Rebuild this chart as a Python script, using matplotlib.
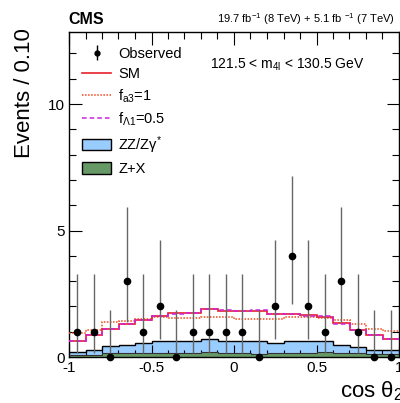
import numpy as np
import matplotlib
matplotlib.use("Agg")
import matplotlib.pyplot as plt
from matplotlib.patches import Patch
from matplotlib.lines import Line2D

plt.rcParams['font.family'] = ['Liberation Sans', 'DejaVu Sans']
plt.rcParams['mathtext.fontset'] = 'custom'
plt.rcParams['mathtext.rm'] = 'Liberation Sans'
plt.rcParams['mathtext.it'] = 'Liberation Sans:italic'
plt.rcParams['mathtext.default'] = 'regular'

# cos theta2 bins, width 0.1
edges = np.round(np.arange(-1.0, 1.0001, 0.1), 2)
centers = edges[:-1] + 0.05

observed = [1, 1, 0, 3, 1, 2, 0, 1, 1, 1, 1, 0, 2, 4, 2, 1, 3, 1, 0, 0]

# Garwood 68% intervals for small counts
poisson_lo = {0: 0.0, 1: 0.17, 2: 0.71, 3: 1.37, 4: 2.09}
poisson_hi = {0: 1.84, 1: 3.30, 2: 4.64, 3: 5.92, 4: 7.16}

sm = [0.63, 0.87, 1.11, 1.30, 1.46, 1.63, 1.73, 1.73, 1.90, 1.83,
      1.83, 1.83, 1.72, 1.70, 1.65, 1.60, 1.33, 1.05, 0.88, 0.70]
fa3 = [0.96, 1.07, 1.40, 1.42, 1.49, 1.60, 1.56, 1.53, 1.58, 1.58,
       1.50, 1.50, 1.49, 1.60, 1.58, 1.56, 1.45, 1.32, 1.10, 1.04]
flambda1 = [0.64, 0.86, 1.12, 1.31, 1.45, 1.64, 1.72, 1.74, 1.89, 1.84,
            1.82, 1.84, 1.71, 1.71, 1.64, 1.61, 1.32, 1.06, 0.87, 0.71]
zz = [0.13, 0.20, 0.29, 0.33, 0.43, 0.45, 0.45, 0.48, 0.50, 0.51,
      0.51, 0.53, 0.43, 0.45, 0.45, 0.42, 0.30, 0.26, 0.18, 0.14]
zx = [0.08, 0.08, 0.14, 0.14, 0.14, 0.17, 0.17, 0.14, 0.21, 0.14,
      0.14, 0.12, 0.14, 0.17, 0.17, 0.20, 0.17, 0.14, 0.10, 0.12]

fig = plt.figure(figsize=(4.0, 4.03), dpi=100)
ax = fig.add_axes([0.1725, 0.1141, 0.825, 0.8065])

bkg_total = np.array(zz) + np.array(zx)

# stacked backgrounds
ax.stairs(bkg_total, edges, fill=True, color='#99ccff', zorder=1)
ax.stairs(zx, edges, fill=True, color='#669966', zorder=2)
ax.stairs(bkg_total, edges, baseline=None, color='black', lw=1.0, zorder=3)
ax.stairs(zx, edges, baseline=None, color='#333333', lw=0.8, zorder=3)

# signal hypotheses
ax.stairs(fa3, edges, baseline=None, color='#f04a1a', lw=1.1, ls=(0, (1, 1)), zorder=4)
ax.stairs(sm, edges, baseline=None, color='#e8202a', lw=1.2, zorder=4)
ax.stairs(flambda1, edges, baseline=None, color='#cc22dd', lw=1.1, ls=(0, (3, 2)), zorder=5)

# data
obs = np.array(observed)
yerr = [[n - poisson_lo[n] for n in observed], [poisson_hi[n] - n for n in observed]]
ax.errorbar(centers, obs, yerr=yerr, fmt='o', color='black', ms=4.5,
            ecolor='#666666', elinewidth=1.0, capsize=0, zorder=6, clip_on=False)

ax.set_xlim(-1, 1)
ax.set_ylim(0, 12.85)
ax.set_xticks([-1, -0.5, 0, 0.5, 1])
ax.set_xticklabels(['-1', '-0.5', '0', '0.5', '1'])
ax.set_xticks(np.arange(-1, 1.001, 0.1), minor=True)
ax.set_yticks([0, 5, 10])
ax.set_yticks(np.arange(0, 13, 1), minor=True)
ax.tick_params(which='both', direction='in', top=True, right=True, labelsize=11, pad=3)
ax.tick_params(which='major', length=9, width=0.8)
ax.tick_params(which='minor', length=5, width=0.8)
for s in ax.spines.values():
    s.set_linewidth(1.0)

fig.text(25 / 400, 1 - 28 / 403, 'Events / 0.10', rotation=90, ha='center', va='top', fontsize=16)
fig.text(340 / 400, 1 - 397 / 403, r'cos θ$_2$', ha='left', va='baseline', fontsize=16)
fig.text(68 / 400, 1 - 24 / 403, 'CMS', ha='left', va='baseline', fontsize=11.5, fontweight='bold')
fig.text(395 / 400, 1 - 23 / 403, r'19.7 fb$^{-1}$ (8 TeV) + 5.1 fb $^{-1}$ (7 TeV)',
         ha='right', va='baseline', fontsize=8)
fig.text(210 / 400, 1 - 69 / 403, r'121.5 < m$_{4l}$ < 130.5 GeV', ha='left', va='baseline', fontsize=10)

obs_handle = ax.errorbar([], [], yerr=[], fmt='o', color='black', ms=3.5, ecolor='black', elinewidth=1.0)
handles = [
    obs_handle,
    Line2D([], [], color='#e8202a', lw=1.2),
    Line2D([], [], color='#f04a1a', lw=1.1, ls=(0, (1, 1))),
    Line2D([], [], color='#cc22dd', lw=1.1, ls=(0, (3, 2))),
    Patch(facecolor='#99ccff', edgecolor='black', lw=1.0),
    Patch(facecolor='#669966', edgecolor='black', lw=1.0),
]
labels = ['Observed', 'SM', r'f$_{a3}$=1', r'f$_{Λ1}$=0.5', r'ZZ/Zγ$^{*}$', 'Z+X']
fig.legend(handles, labels, loc='upper left', bbox_to_anchor=(82 / 400, 1 - 47 / 403),
           frameon=False, fontsize=10.5, handlelength=2.0, handleheight=0.8,
           handletextpad=0.5, labelspacing=0.42, borderpad=0, borderaxespad=0)

fig.savefig('out.png', dpi=100)
